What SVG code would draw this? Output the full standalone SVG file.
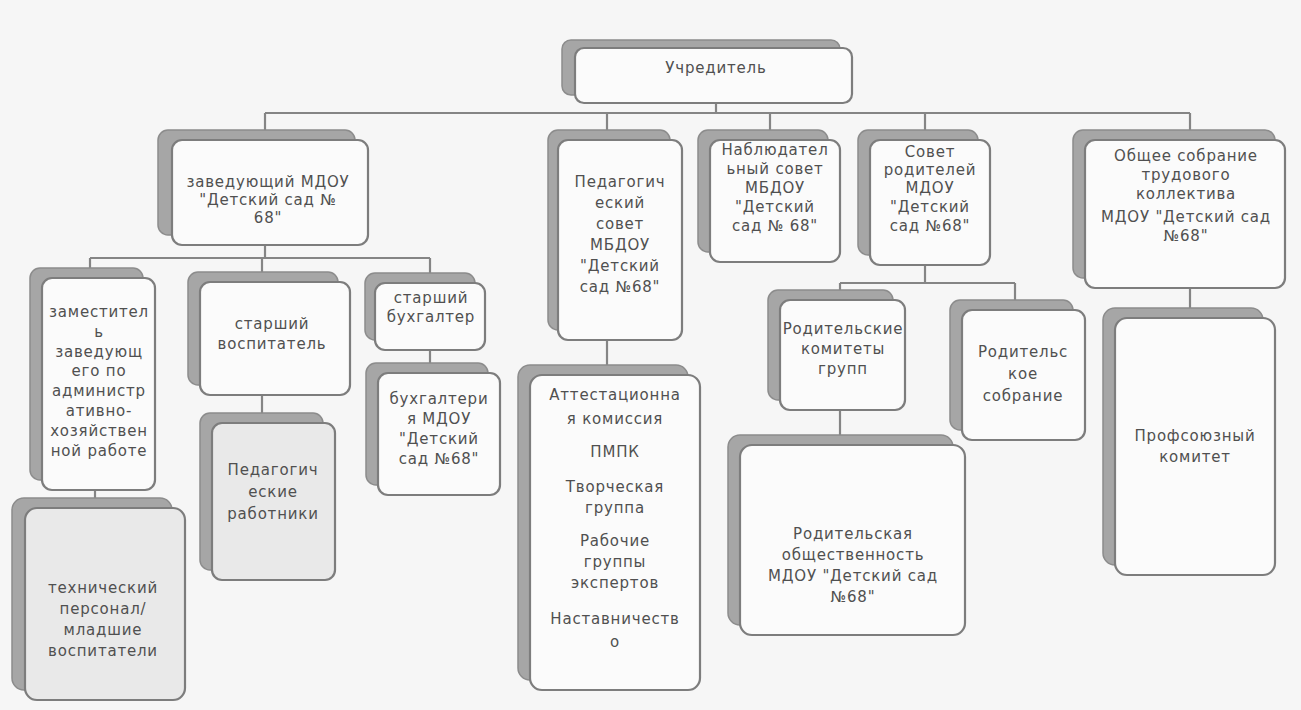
<svg xmlns="http://www.w3.org/2000/svg" width="1301" height="710" viewBox="0 0 1301 710">
<style>
.bg{fill:#f6f6f6}
.back{fill:#a6a6a6;stroke:#8c8c8c;stroke-width:1.5}
.front{fill:#fbfbfb;stroke:#7d7d7d;stroke-width:2.2}
.front2{fill:#e9e9e9;stroke:#7d7d7d;stroke-width:2.2}
.t{font-family:"DejaVu Sans","Liberation Sans",sans-serif;font-size:15px;letter-spacing:0.8px;fill:#505050;text-anchor:middle}
.c{stroke:#858585;stroke-width:2.2;fill:none}
</style>
<rect class="bg" x="0" y="0" width="1301" height="710"/>
<g id="connectors">
<path class="c" d="M716 103V113M265 113H1190M265 113V132M607 113V132M770 113V132M925 113V132M1190 113V132"/>
<path class="c" d="M265 245V258M90 258H430M90 258V270M262 258V274M430 258V275"/>
<path class="c" d="M95 490V500M262 395V415M430 350V365M607 340V367"/>
<path class="c" d="M925 265V283M840 283H1015M840 283V292M1015 283V302M840 410V437M1190 288V310"/>
</g>
<g id="n-uchreditel">
<rect class="back" x="562" y="40" width="278" height="55" rx="9"/>
<rect class="front" x="575" y="48" width="277" height="55" rx="9"/>
<text class="t" x="716" y="73">Учредитель</text>
</g>
<g id="n-zaveduyushchiy">
<rect class="back" x="158" y="130" width="197" height="105" rx="10"/>
<rect class="front" x="172" y="140" width="196" height="105" rx="10"/>
<text class="t" x="268"><tspan x="268" y="187">заведующий МДОУ</tspan><tspan x="268" y="205">"Детский сад №</tspan><tspan x="268" y="223">68"</tspan></text>
</g>
<g id="n-pedsovet">
<rect class="back" x="548" y="130" width="122" height="200" rx="10"/>
<rect class="front" x="558" y="140" width="124" height="200" rx="10"/>
<text class="t"><tspan x="620" y="187">Педагогич</tspan><tspan x="620" y="208">еский</tspan><tspan x="620" y="229">совет</tspan><tspan x="620" y="250">МБДОУ</tspan><tspan x="620" y="271">"Детский</tspan><tspan x="620" y="292">сад №68"</tspan></text>
</g>
<g id="n-nablyud">
<rect class="back" x="698" y="130" width="130" height="122" rx="10"/>
<rect class="front" x="710" y="140" width="130" height="122" rx="10"/>
<text class="t"><tspan x="775" y="155">Наблюдател</tspan><tspan x="775" y="174">ьный совет</tspan><tspan x="775" y="193">МБДОУ</tspan><tspan x="775" y="212">"Детский</tspan><tspan x="775" y="231">сад № 68"</tspan></text>
</g>
<g id="n-sovet-roditeley">
<rect class="back" x="858" y="130" width="120" height="125" rx="10"/>
<rect class="front" x="870" y="140" width="120" height="125" rx="10"/>
<text class="t"><tspan x="930" y="157">Совет</tspan><tspan x="930" y="175">родителей</tspan><tspan x="930" y="193">МДОУ</tspan><tspan x="930" y="212">"Детский</tspan><tspan x="930" y="231">сад №68"</tspan></text>
</g>
<g id="n-obshchee">
<rect class="back" x="1073" y="130" width="202" height="148" rx="10"/>
<rect class="front" x="1085" y="140" width="200" height="148" rx="10"/>
<text class="t"><tspan x="1186" y="161">Общее собрание</tspan><tspan x="1186" y="180">трудового</tspan><tspan x="1186" y="199">коллектива</tspan><tspan x="1186" y="222">МДОУ "Детский сад</tspan><tspan x="1186" y="241">№68"</tspan></text>
</g>
<g id="n-zamestitel">
<rect class="back" x="30" y="268" width="113" height="212" rx="10"/>
<rect class="front" x="42" y="278" width="113" height="212" rx="10"/>
<text class="t"><tspan x="99" y="317">заместител</tspan><tspan x="99" y="337">ь</tspan><tspan x="99" y="357">заведующ</tspan><tspan x="99" y="376">его по</tspan><tspan x="99" y="396">администр</tspan><tspan x="99" y="416">ативно-</tspan><tspan x="99" y="436">хозяйствен</tspan><tspan x="99" y="456">ной работе</tspan></text>
</g>
<g id="n-tekhnicheskiy">
<rect class="back" x="12" y="498" width="160" height="192" rx="12"/>
<rect class="front2" x="25" y="508" width="160" height="192" rx="12"/>
<text class="t"><tspan x="103" y="593">технический</tspan><tspan x="103" y="614">персонал/</tspan><tspan x="103" y="635">младшие</tspan><tspan x="103" y="656">воспитатели</tspan></text>
</g>
<g id="n-st-vospitatel">
<rect class="back" x="188" y="272" width="150" height="113" rx="10"/>
<rect class="front" x="200" y="282" width="150" height="113" rx="10"/>
<text class="t"><tspan x="272" y="329">старший</tspan><tspan x="272" y="349">воспитатель</tspan></text>
</g>
<g id="n-ped-rabotniki">
<rect class="back" x="200" y="413" width="123" height="157" rx="10"/>
<rect class="front2" x="212" y="423" width="123" height="157" rx="10"/>
<text class="t"><tspan x="273" y="475">Педагогич</tspan><tspan x="273" y="497">еские</tspan><tspan x="273" y="519">работники</tspan></text>
</g>
<g id="n-st-bukhgalter">
<rect class="back" x="365" y="273" width="110" height="67" rx="10"/>
<rect class="front" x="375" y="283" width="110" height="67" rx="10"/>
<text class="t"><tspan x="431" y="303">старший</tspan><tspan x="431" y="322">бухгалтер</tspan></text>
</g>
<g id="n-bukhgalteriya">
<rect class="back" x="366" y="363" width="122" height="122" rx="10"/>
<rect class="front" x="378" y="373" width="122" height="122" rx="10"/>
<text class="t"><tspan x="439" y="404">бухгалтери</tspan><tspan x="439" y="424">я МДОУ</tspan><tspan x="439" y="444">"Детский</tspan><tspan x="439" y="464">сад №68"</tspan></text>
</g>
<g id="n-komissii">
<rect class="back" x="518" y="365" width="170" height="315" rx="12"/>
<rect class="front" x="530" y="375" width="170" height="315" rx="12"/>
<text class="t"><tspan x="615" y="400">Аттестационна</tspan><tspan x="615" y="424">я комиссия</tspan><tspan x="615" y="457">ПМПК</tspan><tspan x="615" y="492">Творческая</tspan><tspan x="615" y="513">группа</tspan><tspan x="615" y="546">Рабочие</tspan><tspan x="615" y="567">группы</tspan><tspan x="615" y="588">экспертов</tspan><tspan x="615" y="624">Наставничеств</tspan><tspan x="615" y="647">о</tspan></text>
</g>
<g id="n-rod-komitety">
<rect class="back" x="768" y="290" width="125" height="110" rx="10"/>
<rect class="front" x="780" y="300" width="125" height="110" rx="10"/>
<text class="t"><tspan x="843" y="334">Родительские</tspan><tspan x="843" y="354">комитеты</tspan><tspan x="843" y="374">групп</tspan></text>
</g>
<g id="n-rod-obshchestvennost">
<rect class="back" x="728" y="435" width="225" height="190" rx="12"/>
<rect class="front" x="740" y="445" width="225" height="190" rx="12"/>
<text class="t"><tspan x="853" y="539">Родительская</tspan><tspan x="853" y="560">общественность</tspan><tspan x="853" y="581">МДОУ "Детский сад</tspan><tspan x="853" y="602">№68"</tspan></text>
</g>
<g id="n-rod-sobranie">
<rect class="back" x="950" y="300" width="123" height="130" rx="10"/>
<rect class="front" x="962" y="310" width="123" height="130" rx="10"/>
<text class="t"><tspan x="1023" y="357">Родительс</tspan><tspan x="1023" y="379">кое</tspan><tspan x="1023" y="401">собрание</tspan></text>
</g>
<g id="n-profkom">
<rect class="back" x="1103" y="308" width="160" height="257" rx="12"/>
<rect class="front" x="1115" y="318" width="160" height="257" rx="12"/>
<text class="t"><tspan x="1195" y="441">Профсоюзный</tspan><tspan x="1195" y="462">комитет</tspan></text>
</g>
</svg>
